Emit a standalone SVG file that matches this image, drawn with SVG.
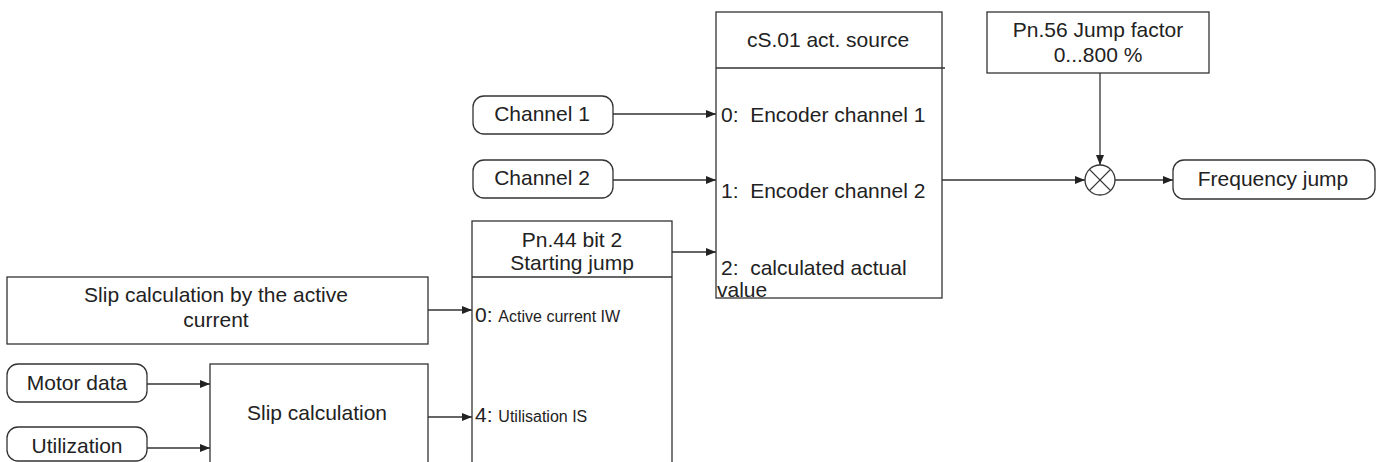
<svg xmlns="http://www.w3.org/2000/svg" width="1381" height="462" viewBox="0 0 1381 462">
<defs>
<marker id="arr" viewBox="0 0 10 8" refX="10" refY="4" markerWidth="10" markerHeight="8" markerUnits="userSpaceOnUse" orient="auto">
<path d="M0,0 L10,4 L0,8 Z" fill="#222"/>
</marker>
<style>
.box{fill:#fff;stroke:#333;stroke-width:1.3}
.ln{fill:none;stroke:#333;stroke-width:1.3}
.t{font-family:"Liberation Sans",Arial,sans-serif;font-size:21px;fill:#222}
.m{text-anchor:middle}
.s{font-size:16px}
.c{fill:none;stroke:#333;stroke-width:1.3;marker-end:url(#arr)}
</style>
</defs>
<rect width="1381" height="462" fill="#fff"/>
<g id="connectors">
<line class="c" x1="613" y1="114" x2="716" y2="114"/>
<line class="c" x1="613" y1="180" x2="716" y2="180"/>
<line class="c" x1="672" y1="252" x2="716" y2="252"/>
<line class="c" x1="428" y1="310" x2="472" y2="310"/>
<line class="c" x1="428" y1="417" x2="472" y2="417"/>
<line class="c" x1="147" y1="384" x2="210" y2="384"/>
<line class="c" x1="147" y1="448" x2="210" y2="448"/>
<line class="c" x1="942" y1="180" x2="1085" y2="180"/>
<line class="c" x1="1100" y1="73" x2="1100" y2="165"/>
<line class="c" x1="1115" y1="180" x2="1173" y2="180"/>
</g>
<g id="cs01">
<rect class="box" x="716" y="12" width="226" height="286"/>
<line class="ln" x1="716" y1="68" x2="945" y2="68"/>
<text class="t m" x="828" y="47">cS.01 act. source</text>
<text class="t" x="721" y="122" xml:space="preserve">0:  Encoder channel 1</text>
<text class="t" x="721" y="198" xml:space="preserve">1:  Encoder channel 2</text>
<text class="t" x="721" y="275" xml:space="preserve">2:  calculated actual</text>
<text class="t" x="717" y="297">value</text>
</g>
<g id="channel1">
<rect class="box" x="473" y="96" width="140" height="38" rx="11"/>
<text class="t m" x="542" y="121">Channel 1</text>
</g>
<g id="channel2">
<rect class="box" x="473" y="160" width="140" height="38" rx="11"/>
<text class="t m" x="542" y="185">Channel 2</text>
</g>
<g id="pn44">
<rect class="box" x="472" y="221" width="200" height="250"/>
<line class="ln" x1="472" y1="277" x2="672" y2="277"/>
<text class="t m" x="572" y="247">Pn.44 bit 2</text>
<text class="t m" x="572" y="270">Starting jump</text>
<text class="t" x="475" y="322">0: <tspan class="s">Active current IW</tspan></text>
<text class="t" x="475" y="422">4: <tspan class="s">Utilisation IS</tspan></text>
</g>
<g id="slip-active">
<rect class="box" x="7" y="277" width="421" height="67"/>
<text class="t m" x="216" y="302">Slip calculation by the active</text>
<text class="t m" x="216" y="327">current</text>
</g>
<g id="motor-data">
<rect class="box" x="7" y="364" width="140" height="38" rx="11"/>
<text class="t m" x="77" y="390">Motor data</text>
</g>
<g id="utilization">
<rect class="box" x="7" y="427" width="140" height="34" rx="11"/>
<text class="t m" x="77" y="453">Utilization</text>
</g>
<g id="slip-calc">
<rect class="box" x="210" y="364" width="218" height="110"/>
<text class="t m" x="317" y="420">Slip calculation</text>
</g>
<g id="pn56">
<rect class="box" x="987" y="12" width="222" height="61"/>
<text class="t m" x="1098" y="37">Pn.56 Jump factor</text>
<text class="t m" x="1098" y="62">0...800 %</text>
</g>
<g id="multiplier">
<circle class="box" cx="1100" cy="180" r="15"/>
<line class="ln" x1="1089.4" y1="169.4" x2="1110.6" y2="190.6"/>
<line class="ln" x1="1110.6" y1="169.4" x2="1089.4" y2="190.6"/>
</g>
<g id="frequency-jump">
<rect class="box" x="1173" y="160" width="202" height="39" rx="11"/>
<text class="t m" x="1273" y="186">Frequency jump</text>
</g>
</svg>
